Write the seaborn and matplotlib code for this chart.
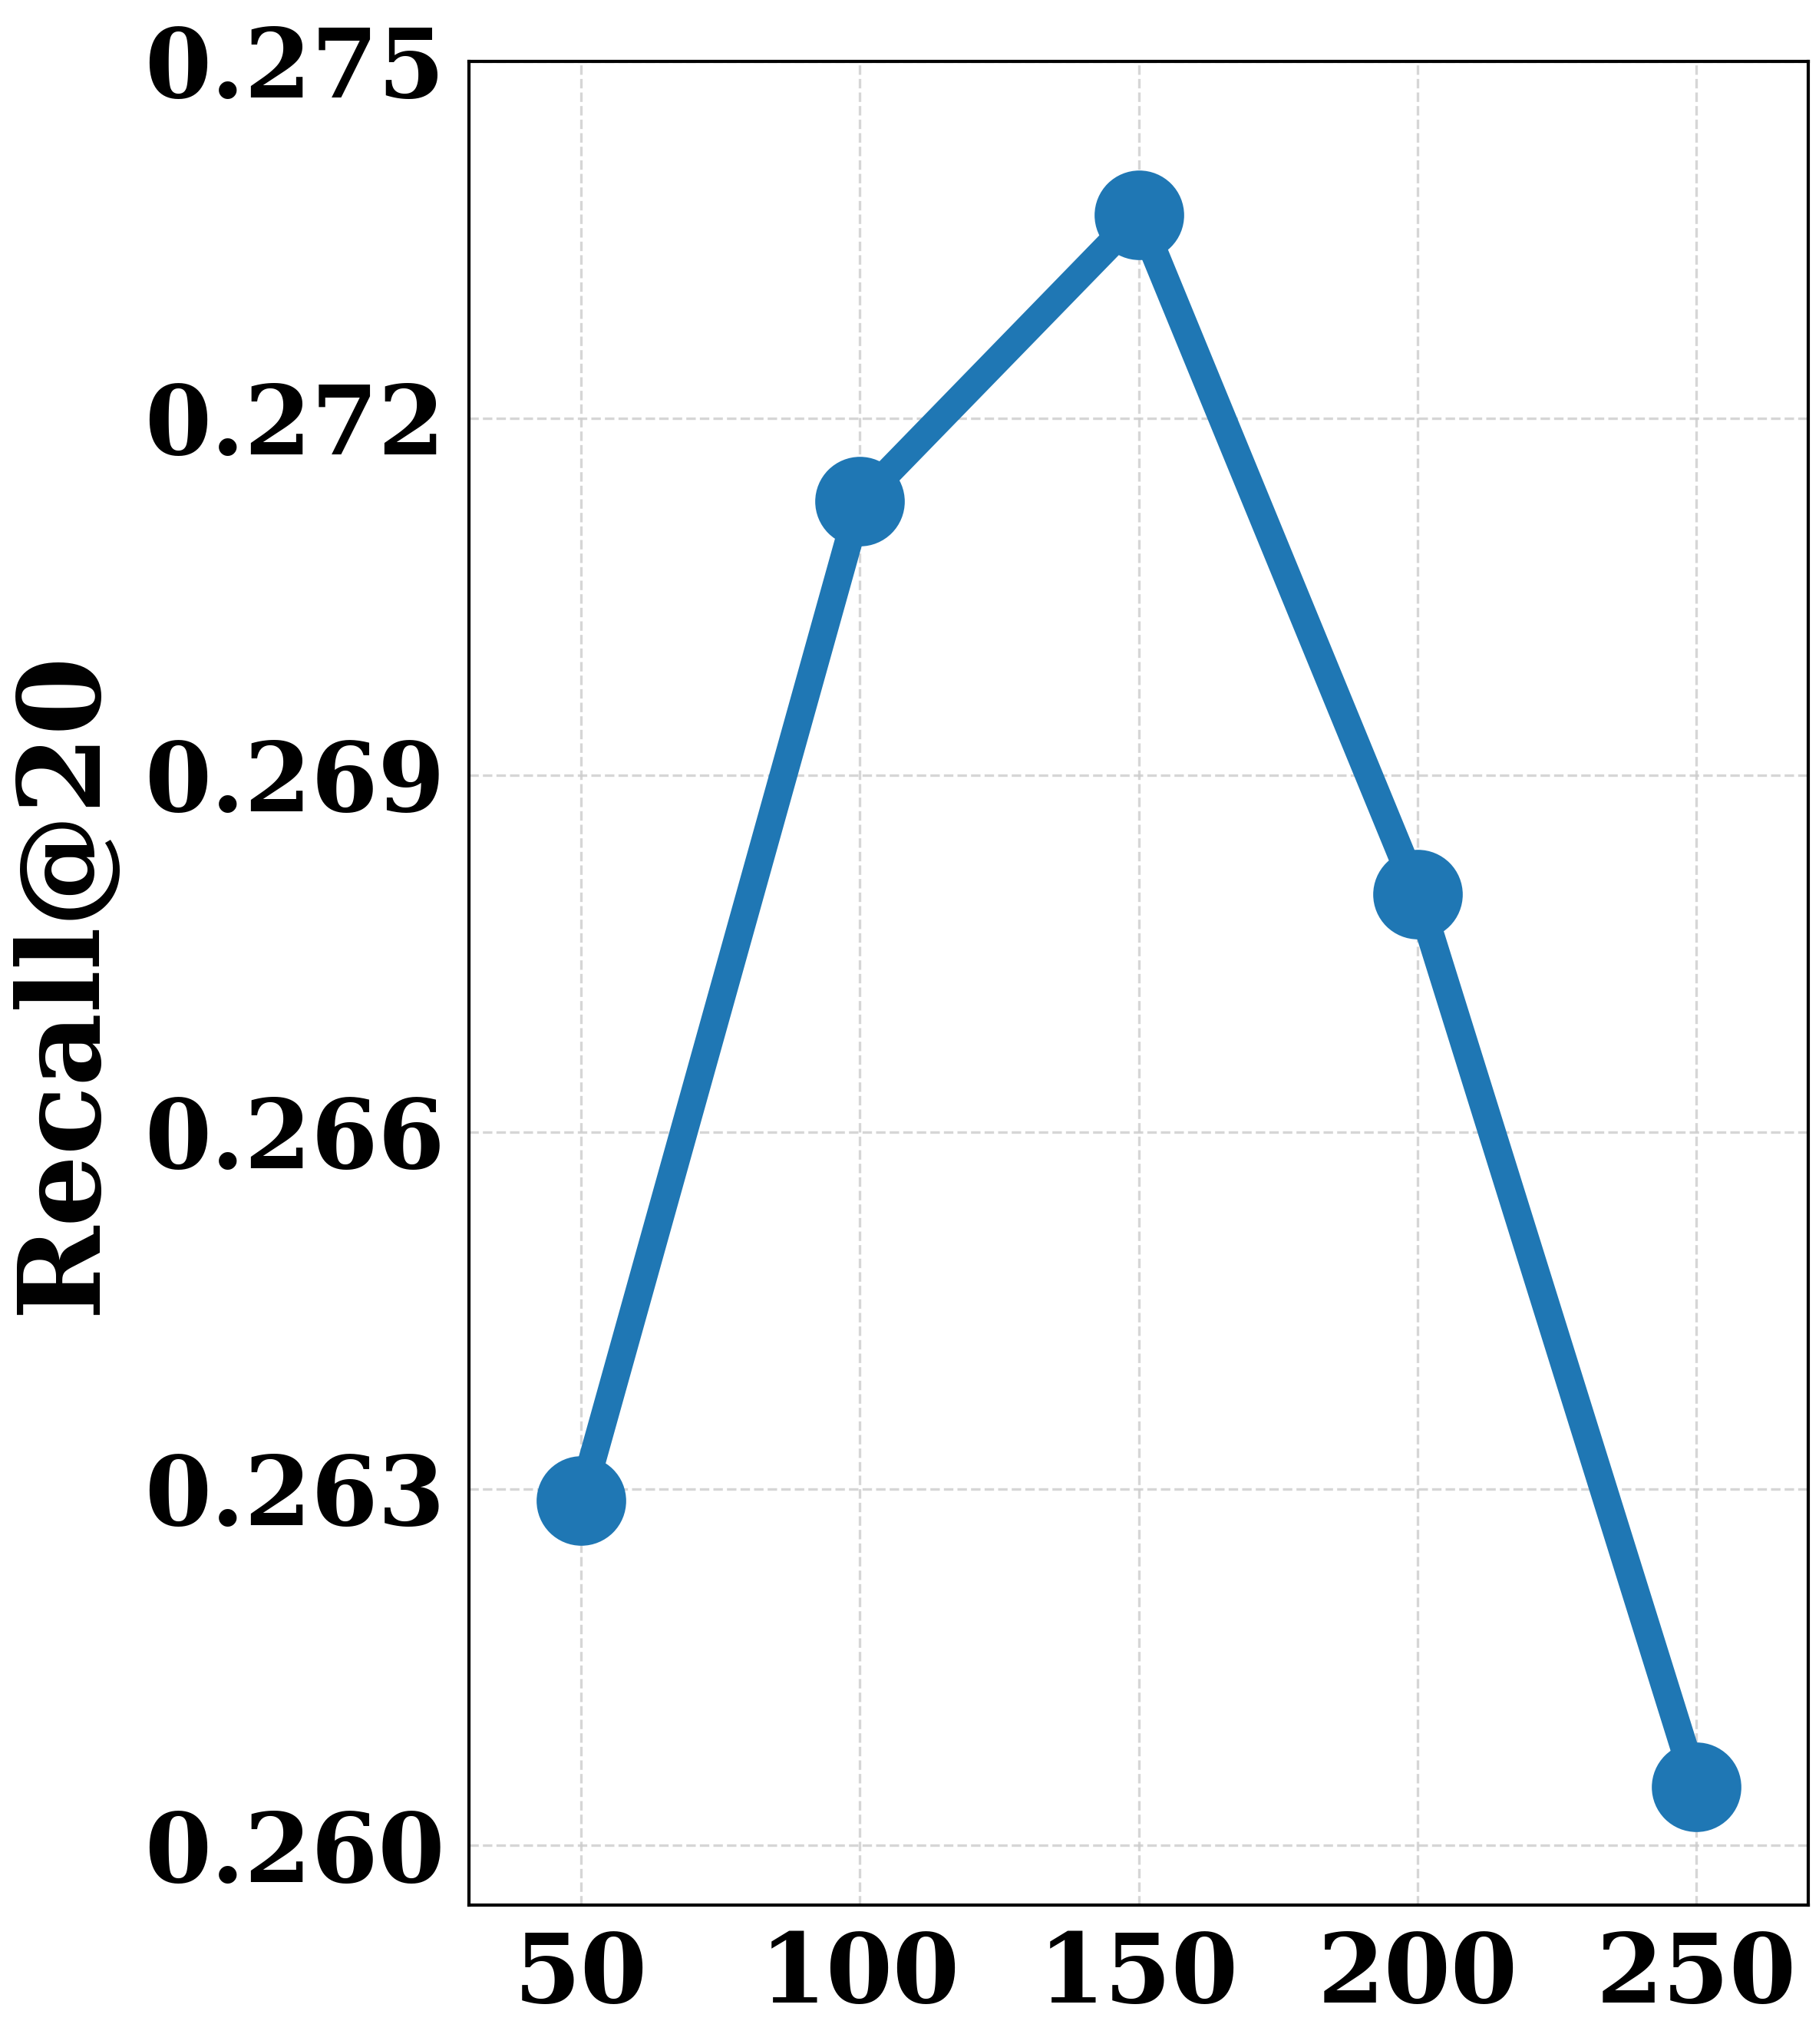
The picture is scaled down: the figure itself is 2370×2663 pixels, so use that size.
import matplotlib
matplotlib.use("Agg")
import matplotlib.pyplot as plt
import seaborn as sns
import pandas as pd

x_vals = [50, 100, 150, 200, 250]
recall = [0.2629, 0.2713, 0.27371, 0.2680, 0.26049]
y_ticks = [0.260, 0.263, 0.266, 0.269, 0.272, 0.275]

sns.set_style("white")
plt.rcParams['font.family'] = ['DejaVu Serif']
plt.rcParams['font.weight'] = 'bold'
plt.rcParams['text.color'] = 'black'
plt.rcParams['axes.labelcolor'] = 'black'
plt.rcParams['xtick.color'] = 'black'
plt.rcParams['ytick.color'] = 'black'

fig = plt.figure(figsize=(11.85, 13.315), dpi=200)
ax = fig.add_axes([0.258, 0.068, 0.736, 0.902])
df = pd.DataFrame({"x": x_vals, "y": recall})
sns.lineplot(data=df, x="x", y="y", ax=ax, color="#1f77b4", linewidth=13,
             marker="o", markersize=42, markeredgewidth=0)
ax.set_xlim(30, 270)
ax.set_ylim(0.2595, 0.275)
ax.set_xticks(x_vals)
ax.set_yticks(y_ticks)
ax.set_yticklabels([f"{v:.3f}" for v in y_ticks])
ax.tick_params(labelsize=45, width=1.5, length=8, colors="black")
for lab in ax.get_xticklabels() + ax.get_yticklabels():
    lab.set_fontweight("bold")
ax.grid(True, linestyle="--", color="#cccccc", linewidth=1.2, alpha=0.8)
ax.set_xlabel("")
ax.set_ylabel("Recall@20", fontsize=53, fontweight="bold", labelpad=12)
for s in ax.spines.values():
    s.set_color("black"); s.set_linewidth(1.5)
fig.savefig("out.png", dpi=200)
